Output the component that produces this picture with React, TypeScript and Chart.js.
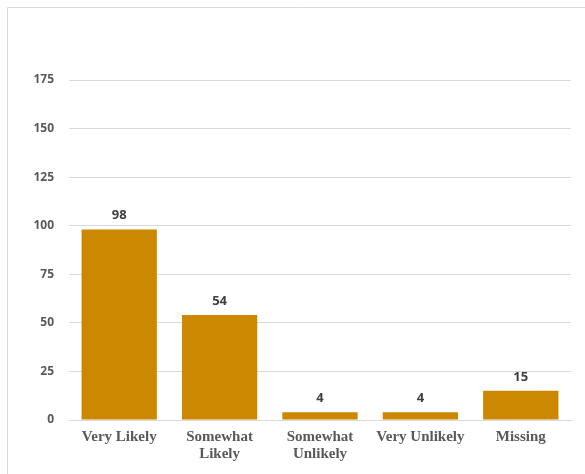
import React, { useEffect, useRef } from "react";
import { Chart, registerables } from "chart.js";

Chart.register(...registerables);

const categories: (string | string[])[] = [
  "Very Likely",
  ["Somewhat", "Likely"],
  ["Somewhat", "Unlikely"],
  "Very Unlikely",
  "Missing",
];
const counts = [98, 54, 4, 4, 15];
const yTicks = [0, 25, 50, 75, 100, 125, 150, 175];

const barColor = "#CC8800";
const gridColor = "#D9D9D9";

const framePlugin = {
  id: "frame",
  beforeDraw(chart: any) {
    const ctx = chart.ctx;
    ctx.save();
    ctx.fillStyle = "#ffffff";
    ctx.fillRect(0, 0, chart.width, chart.height);
    ctx.strokeStyle = "#D9D9D9";
    ctx.lineWidth = 1;
    ctx.beginPath();
    ctx.moveTo(7.5, chart.height);
    ctx.lineTo(7.5, 7.5);
    ctx.lineTo(chart.width, 7.5);
    ctx.stroke();
    ctx.restore();
  },
};

const labelPlugin = {
  id: "barLabels",
  afterDatasetsDraw(chart: any) {
    const ctx = chart.ctx;
    const meta = chart.getDatasetMeta(0);
    ctx.save();
    ctx.font = "bold 13px 'Open Sans'";
    ctx.fillStyle = "#404040";
    ctx.textAlign = "center";
    ctx.textBaseline = "middle";
    meta.data.forEach((bar: any, i: number) => {
      ctx.fillText(String(counts[i]), bar.x, bar.y - 14);
    });
    ctx.restore();
  },
};

export default function App() {
  const ref = useRef<HTMLCanvasElement>(null);
  useEffect(() => {
    if (!ref.current) return;
    const chart = new Chart(ref.current, {
      type: "bar",
      data: {
        labels: categories,
        datasets: [
          {
            data: counts,
            backgroundColor: barColor,
            borderWidth: 0,
            barPercentage: 0.75,
            categoryPercentage: 1,
          },
        ],
      },
      options: {
        responsive: false,
        animation: false,
        layout: { padding: { left: 0, top: 80, right: 14, bottom: 0 } },
        plugins: {
          legend: { display: false },
          tooltip: { enabled: false },
        },
        scales: {
          x: {
            grid: { display: false, drawTicks: false },
            border: { display: true, color: gridColor },
            ticks: {
              padding: 9,
              color: "#595959",
              font: { family: "'Liberation Serif'", size: 15, weight: "bold", lineHeight: 1.13 },
              maxRotation: 0,
              autoSkip: false,
            },
            afterFit(scale: any) {
              scale.height = 54;
            },
          },
          y: {
            min: 0,
            max: 175,
            grid: { color: gridColor, drawTicks: false },
            border: { display: false },
            afterBuildTicks(scale: any) {
              scale.ticks = yTicks.map((v) => ({ value: v }));
            },
            ticks: {
              padding: 15,
              color: "#595959",
              font: { family: "'Open Sans'", size: 12, weight: "bold" },
            },
            afterFit(scale: any) {
              scale.width = 69;
            },
          },
        },
      },
      plugins: [framePlugin, labelPlugin],
    });
    return () => chart.destroy();
  }, []);
  return (
    <canvas
      ref={ref}
      width={585}
      height={474}
      style={{ position: "fixed", left: 0, top: 0, display: "block" }}
    />
  );
}
